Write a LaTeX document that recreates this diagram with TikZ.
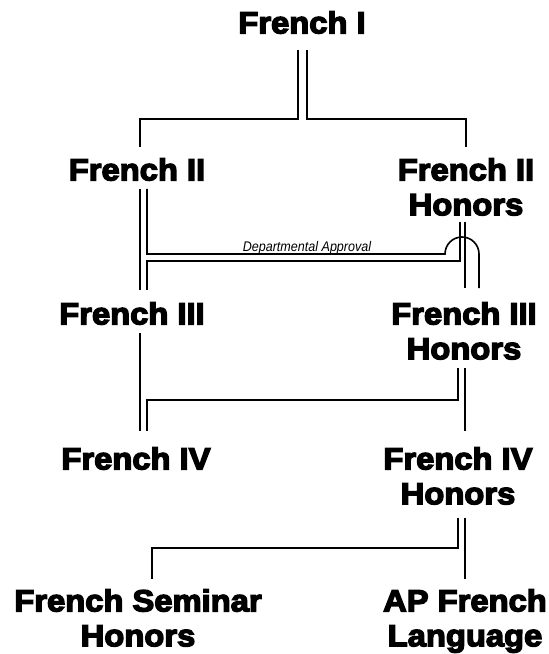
\documentclass[tikz,border=0pt]{standalone}
\usepackage{fontspec}
\setmainfont{Liberation Sans}
\newfontfamily\headfont[FakeStretch=1.07,FakeBold=4.5]{Liberation Sans}
\newfontfamily\notefont[FakeStretch=0.9]{Liberation Sans}
\usetikzlibrary{calc}
\begin{document}
\begin{tikzpicture}[x=1bp,y=-1bp,
  course/.style={anchor=north,inner sep=0pt,align=center,
    font=\headfont\bfseries\fontsize{30.7}{35}\selectfont},
  link/.style={line width=1.6bp,line join=miter},
  note/.style={inner sep=0pt,anchor=base,font=\notefont\itshape\fontsize{14}{16}\selectfont}]
\useasboundingbox (0,0) rectangle (549,654);
% courses
\node[course] (f1)  at (302,11)  {French I};
\node[course] (f2)  at (137,158) {French II};
\node[course] (f2h) at (466,158) {French II\\Honors};
\node[course] (f3)  at (132,302) {French III};
\node[course] (f3h) at (464,302) {French III\\Honors};
\node[course] (f4)  at (136,447) {French IV};
\node[course] (f4h) at (458,447) {French IV\\Honors};
\node[course] (fs)  at (138,589) {French Seminar\\Honors};
\node[course] (ap)  at (465,589) {AP French\\Language};
% connectors
\draw[link] ($(f1.south)+(-4,16)$) |- ($(f2.north)+(3,-39)$) -- ($(f2.north)+(3,-11)$);
\draw[link] ($(f1.south)+(5,16)$) |- ($(f2h.north)+(0,-39)$) -- ($(f2h.north)+(0,-11)$);
\draw[link] ($(f2.south)+(3,8)$) -- ($(f3.north)+(8,-12)$);
\draw[link] ($(f2.south)+(10,8)$) |- ($(f3h.north)+(-19,-48)$)
  arc[start angle=180,end angle=360,radius=17] -- ($(f3h.north)+(15,-14)$);
\node[note] (da) at (307,251) {Departmental Approval};
\draw[link] ($(f2h.south)+(-6,6)$) |- ($(f3.north)+(15,-41)$) -- ($(f3.north)+(15,-12)$);
\draw[link] ($(f2h.south)+(-1,6)$) -- ($(f3h.north)+(1,-14)$);
\draw[link] ($(f3.south)+(8,8)$) -- ($(f4.north)+(4,-16)$);
\draw[link] ($(f3h.south)+(-6,8)$) |- ($(f4.north)+(11,-47)$) -- ($(f4.north)+(11,-16)$);
\draw[link] ($(f3h.south)+(1,8)$) -- ($(f4h.north)+(7,-16)$);
\draw[link] ($(f4h.south)+(0,13)$) |- ($(fs.north)+(14,-41)$) -- ($(fs.north)+(14,-10)$);
\draw[link] ($(f4h.south)+(7,13)$) -- ($(ap.north)+(0,-10)$);
\end{tikzpicture}
\end{document}
